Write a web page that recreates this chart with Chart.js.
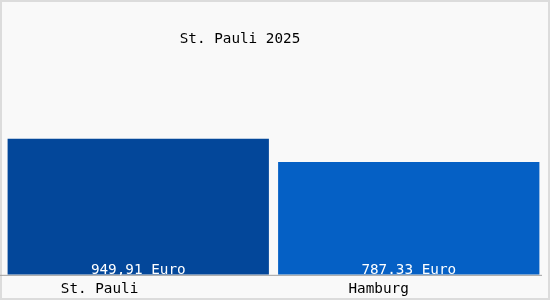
<!DOCTYPE html>
<html lang="de">
<head>
  <meta charset="UTF-8">
  <title>St. Pauli 2025</title>
  <script src="https://cdn.jsdelivr.net/npm/chart.js"></script>
  <style>
    * { box-sizing: border-box; margin: 0; padding: 0; }
    html, body { width: 550px; height: 300px; overflow: hidden; background: #fff; }
    .box {
      position: relative;
      width: 550px;
      height: 300px;
      background: #f9f9f9;
      border: 2px solid #dcdcdc;
    }
    canvas { position: absolute; left: -2px; top: -2px; }
  </style>
</head>
<body>
  <div class="box">
    <canvas id="chart" width="550" height="300"></canvas>
  </div>

  <script>
    // Daten
    const chartTitle = 'St. Pauli 2025';
    const categories = ['St. Pauli', 'Hamburg'];
    const values = [949.91, 787.33];
    const valueLabels = ['949,91 Euro', '787.33 Euro'];
    const barColors = ['#03479a', '#0560c5'];
    const yMax = 1500;

    const mono = '"DejaVu Sans Mono", "Liberation Mono", monospace';

    // Titel, Wertbeschriftungen und Grundlinie
    const overlay = {
      id: 'overlay',
      afterDatasetsDraw(chart) {
        const { ctx, chartArea } = chart;
        ctx.save();
        ctx.font = '14.3px ' + mono;
        ctx.fillStyle = '#000';
        ctx.textAlign = 'center';
        ctx.textBaseline = 'alphabetic';
        ctx.fillText(chartTitle, 240, 43);

        ctx.fillStyle = '#fff';
        chart.getDatasetMeta(0).data.forEach((bar, i) => {
          ctx.fillText(valueLabels[i], bar.x, chartArea.bottom - 1);
        });

        ctx.strokeStyle = '#a0a0a0';
        ctx.lineWidth = 1;
        ctx.beginPath();
        ctx.moveTo(0, chartArea.bottom + 0.5);
        ctx.lineTo(chartArea.right - 2, chartArea.bottom + 0.5);
        ctx.stroke();
        ctx.restore();
      }
    };

    new Chart(document.getElementById('chart').getContext('2d'), {
      type: 'bar',
      data: {
        labels: categories,
        datasets: [{
          data: values,
          backgroundColor: barColors,
          borderWidth: 0,
          barPercentage: 0.966,
          categoryPercentage: 1
        }]
      },
      options: {
        responsive: false,
        animation: false,
        layout: { padding: { left: 3, right: 6, top: 60, bottom: -4 } },
        plugins: {
          legend: { display: false },
          title: { display: false },
          tooltip: { enabled: false }
        },
        scales: {
          x: {
            grid: { display: false, drawTicks: false },
            border: { display: false },
            ticks: {
              align: 'end',
              padding: 6,
              color: '#000',
              font: { family: mono, size: 14.3 }
            }
          },
          y: {
            display: false,
            min: 0,
            max: yMax
          }
        }
      },
      plugins: [overlay]
    });
  </script>
</body>
</html>
